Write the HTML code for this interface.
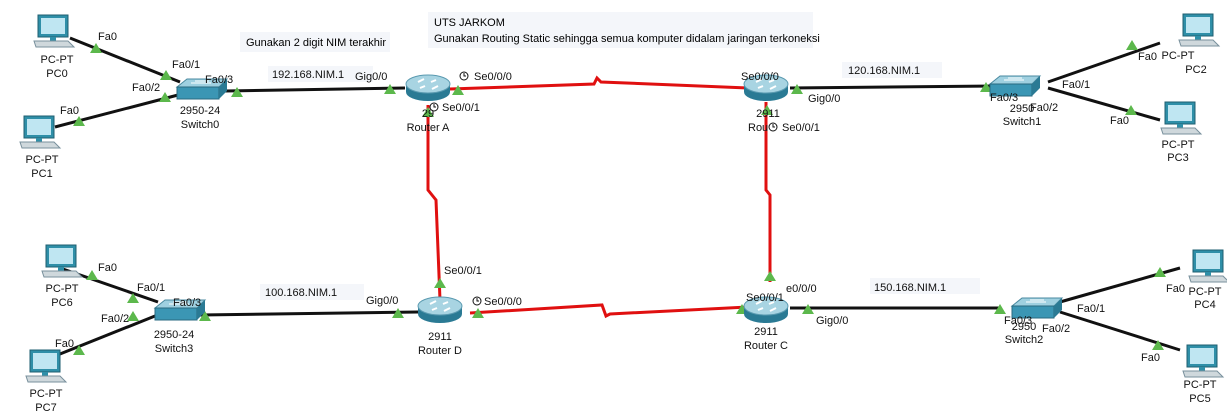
<!DOCTYPE html>
<html><head><meta charset="utf-8"><style>
html,body{margin:0;padding:0;background:#fff;}
svg{display:block;font-family:"Liberation Sans",sans-serif;font-size:11px;}
</style></head><body>
<svg width="1227" height="420" viewBox="0 0 1227 420" xmlns="http://www.w3.org/2000/svg">
<defs>
<g id="pc">
<rect x="0" y="0" width="30" height="22" fill="#2f8fa8" stroke="#1f5f70"/>
<rect x="3" y="3" width="24" height="16" fill="#bfe6f2"/>
<rect x="12" y="22" width="6" height="4" fill="#2f8fa8"/>
<polygon points="-4,26 30,26 36,32 -2,32" fill="#cfd8dc" stroke="#78909c"/>
</g>
<g id="sw">
<polygon points="0,8 10,0 50,0 42,8" fill="#9fd0e0" stroke="#4a8aa0"/>
<rect x="0" y="8" width="42" height="12" fill="#3b96b4" stroke="#2a6a80"/>
<polygon points="42,8 50,0 50,12 42,20" fill="#2a7a94"/>
<path d="M14,4 h20 M18,2 h14" stroke="#fff" stroke-width="1"/>
</g>
<g id="rt">
<ellipse cx="0" cy="8" rx="22" ry="9" fill="#2a7a94"/>
<rect x="-22" y="0" width="44" height="8" fill="#2a7a94"/>
<ellipse cx="0" cy="0" rx="22" ry="9" fill="#a8d4e2" stroke="#5a9ab0"/>
<path d="M-10,-2 l6,-3 M10,2 l-6,3 M-8,4 l5,-2 M8,-4 l-5,2" stroke="#fff" stroke-width="2"/>
</g>
<polygon id="tri" points="-6,5 6,5 0,-5" fill="#5cb84c"/>
</defs>

<rect x="240" y="32" width="150" height="20" fill="#f4f6fa"/>
<text x="246" y="46">Gunakan 2 digit NIM terakhir</text>
<rect x="428" y="12" width="385" height="36" fill="#f4f6fa"/>
<text x="434" y="26">UTS JARKOM</text>
<text x="434" y="42">Gunakan Routing Static sehingga semua komputer didalam jaringan terkoneksi</text>

<g stroke="#111" stroke-width="3" fill="none">
<path d="M70,38 L180,82"/><path d="M55,127 L178,95"/>
<path d="M225,91 L405,88"/>
<path d="M60,268 L158,302"/><path d="M45,360 L155,316"/>
<path d="M200,315 L418,312"/>
<path d="M790,88 L995,86"/><path d="M1048,82 L1160,43"/><path d="M1048,88 L1160,120"/>
<path d="M790,308 L1000,308"/><path d="M1060,302 L1180,268"/><path d="M1060,312 L1180,350"/>
</g>
<g stroke="#e01010" stroke-width="3" fill="none">
<path d="M450,89 L594,84 L597,78 L601,82 L748,88"/>
<path d="M428,105 L428,190 L432,195 L436,200 L440,300"/>
<path d="M766,102 L766,190 L770,195 L770,282"/>
<path d="M470,313 L602,305 L606,316 L610,314 L748,307"/>
</g>

<use href="#tri" x="96" y="48"/><use href="#tri" x="166" y="75"/><use href="#tri" x="165" y="97"/><use href="#tri" x="79" y="121"/>
<use href="#tri" x="237" y="92"/><use href="#tri" x="390" y="89"/><use href="#tri" x="458" y="90"/><use href="#tri" x="428" y="112"/>
<use href="#tri" x="750" y="87"/><use href="#tri" x="797" y="89"/><use href="#tri" x="767" y="110"/>
<use href="#tri" x="986" y="87"/><use href="#tri" x="1132" y="45"/><use href="#tri" x="1131" y="110"/>
<use href="#tri" x="92" y="275"/><use href="#tri" x="133" y="298"/><use href="#tri" x="133" y="316"/><use href="#tri" x="79" y="350"/>
<use href="#tri" x="205" y="316"/><use href="#tri" x="398" y="313"/><use href="#tri" x="478" y="313"/><use href="#tri" x="440" y="283"/>
<use href="#tri" x="742" y="309"/><use href="#tri" x="808" y="309"/><use href="#tri" x="770" y="276"/>
<use href="#tri" x="1000" y="309"/><use href="#tri" x="1160" y="272"/><use href="#tri" x="1158" y="345"/>

<use href="#pc" x="38" y="15"/><use href="#pc" x="24" y="116"/>
<use href="#pc" x="46" y="245"/><use href="#pc" x="30" y="350"/>
<use href="#pc" x="1183" y="14"/><use href="#pc" x="1165" y="102"/>
<use href="#pc" x="1193" y="250"/><use href="#pc" x="1187" y="345"/>
<use href="#sw" x="177" y="79"/><use href="#sw" x="155" y="300"/>
<use href="#sw" x="990" y="76"/><use href="#sw" x="1012" y="298"/>
<use href="#rt" x="428" y="84"/><use href="#rt" x="766" y="84"/>
<use href="#rt" x="440" y="306"/><use href="#rt" x="766" y="306"/>

<g fill="#111" text-anchor="middle">
<text x="57" y="63">PC-PT</text><text x="57" y="77">PC0</text>
<text x="42" y="163">PC-PT</text><text x="42" y="177">PC1</text>
<text x="200" y="114">2950-24</text><text x="200" y="128">Switch0</text>
<text x="428" y="117">29</text><text x="428" y="131">Router A</text>
<text x="768" y="117">2911</text>
<text x="1178" y="59">PC-PT</text><text x="1196" y="73">PC2</text>
<text x="1178" y="148">PC-PT</text><text x="1178" y="161">PC3</text>
<text x="1022" y="112">2950</text><text x="1022" y="125">Switch1</text>
<text x="62" y="292">PC-PT</text><text x="62" y="306">PC6</text>
<text x="46" y="397">PC-PT</text><text x="46" y="411">PC7</text>
<text x="174" y="338">2950-24</text><text x="174" y="352">Switch3</text>
<text x="440" y="340">2911</text><text x="440" y="354">Router D</text>
<text x="766" y="335">2911</text><text x="766" y="349">Router C</text>
<text x="1024" y="330">2950</text><text x="1024" y="343">Switch2</text>
<text x="1205" y="295">PC-PT</text><text x="1205" y="308">PC4</text>
<text x="1200" y="388">PC-PT</text><text x="1200" y="402">PC5</text>
</g>
<g fill="#111">
<text x="98" y="40">Fa0</text><text x="172" y="68">Fa0/1</text><text x="132" y="91">Fa0/2</text><text x="205" y="83">Fa0/3</text>
<text x="60" y="114">Fa0</text>
<rect x="268" y="66" width="105" height="16" fill="#f4f6fa"/><text x="272" y="78">192.168.NIM.1</text>
<text x="355" y="80">Gig0/0</text>
<text x="474" y="80">Se0/0/0</text><text x="442" y="111">Se0/0/1</text>
<text x="741" y="80">Se0/0/0</text><text x="808" y="102">Gig0/0</text><text x="748" y="131">Rou</text><text x="782" y="131">Se0/0/1</text>
<rect x="842" y="62" width="100" height="16" fill="#f4f6fa"/><text x="848" y="74">120.168.NIM.1</text>
<text x="990" y="101">Fa0/3</text><text x="1030" y="111">Fa0/2</text><text x="1062" y="88">Fa0/1</text>
<text x="1138" y="60">Fa0</text><text x="1110" y="124">Fa0</text>
<text x="98" y="271">Fa0</text><text x="137" y="291">Fa0/1</text><text x="101" y="322">Fa0/2</text><text x="173" y="306">Fa0/3</text>
<text x="55" y="347">Fa0</text>
<rect x="260" y="284" width="104" height="16" fill="#f4f6fa"/><text x="265" y="296">100.168.NIM.1</text>
<text x="366" y="304">Gig0/0</text>
<text x="444" y="274">Se0/0/1</text><text x="484" y="305">Se0/0/0</text>
<text x="746" y="301">Se0/0/1</text><text x="786" y="292">e0/0/0</text><text x="816" y="324">Gig0/0</text>
<rect x="870" y="278" width="110" height="16" fill="#f4f6fa"/><text x="874" y="291">150.168.NIM.1</text>
<text x="1004" y="324">Fa0/3</text><text x="1042" y="332">Fa0/2</text><text x="1077" y="312">Fa0/1</text>
<text x="1166" y="292">Fa0</text><text x="1141" y="361">Fa0</text>
</g>
<g fill="none" stroke="#111">
<circle cx="464" cy="76" r="4"/><path d="M464,73 v3 h2"/>
<circle cx="434" cy="107" r="4"/><path d="M434,104 v3 h2"/>
<circle cx="773" cy="127" r="4"/><path d="M773,124 v3 h2"/>
<circle cx="477" cy="301" r="4"/><path d="M477,298 v3 h2"/>
</g>
</svg>
</body></html>
